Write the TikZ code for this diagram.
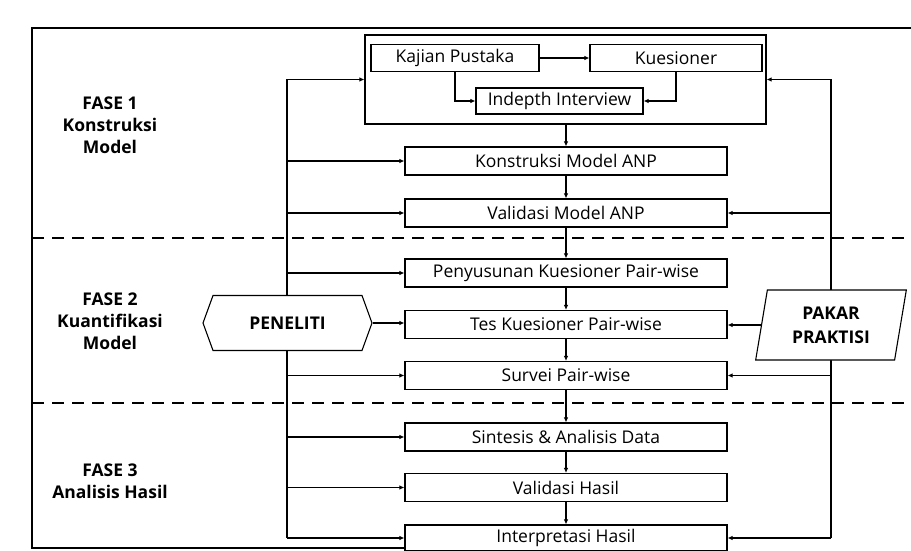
\documentclass[tikz,border=0pt]{standalone}
\usepackage{fontspec}
\setmainfont{Open Sans}
\usetikzlibrary{arrows.meta,shapes.symbols,shapes.geometric}
\begin{document}
\begin{tikzpicture}[x=1pt,y=-1pt,
  box/.style={draw, line width=1.1pt, minimum width=322pt, minimum height=28pt, inner sep=0pt, font=\fontsize{17.5}{19}\selectfont},
  sbox/.style={draw, line width=1.1pt, minimum height=27pt, inner sep=0pt, font=\fontsize{17.5}{19}\selectfont},
  arr/.style={line width=1.3pt, -{Latex[length=5pt,width=4.5pt]}},
  ln/.style={line width=1.3pt},
  frame/.style={line width=2.4pt},
  phase/.style={line width=2.5pt, dash pattern=on 12pt off 8pt},
  lbl/.style={font=\bfseries\fontsize{17.5}{22}\selectfont, align=center},
  actor/.style={draw, fill=white, line width=1.1pt, inner sep=0pt, font=\bfseries\fontsize{17.5}{24}\selectfont, align=center}]
\useasboundingbox (0,0) rectangle (911,551);
\fill[white] (0,0) rectangle (911,551);

% frame and phase separators
\draw[frame] (911,28) -- (32,28) -- (32,548) -- (405,548);
\draw[phase] (32,238) -- (911,238);
\draw[phase] (32,403) -- (911,403);

% phase labels
\node[lbl] (f1) at (110,125) {FASE 1\\Konstruksi\\Model};
\node[lbl] (f2) at (110,321) {FASE 2\\Kuantifikasi\\Model};
\node[lbl] (f3) at (110,481) {FASE 3\\Analisis Hasil};

% group box
\node[draw, line width=1.1pt, minimum width=401pt, minimum height=89pt, inner sep=0pt] (grp) at (565.5,79.5) {};
\node[sbox, minimum width=168pt] (kp) at (455,58) {Kajian Pustaka};
\node[sbox, minimum width=172pt] (kue) at (676,58) {Kuesioner};
\node[sbox, minimum width=167pt, minimum height=26pt] (idi) at (559.5,101) {Indepth Interview};
\draw[arr] (kp.east) -- (kue.west);
\draw[arr] (kp.south) |- (idi.west);
\draw[arr] (kue.south) |- (idi.east);

% main column
\node[box] (k1) at (566,161) {Konstruksi Model ANP};
\node[box] (k2) at (566,213) {Validasi Model ANP};
\node[box] (k3) at (566,273) {Penyusunan Kuesioner Pair-wise};
\node[box] (k4) at (566,324.5) {Tes Kuesioner Pair-wise};
\node[box] (k5) at (566,375.5) {Survei Pair-wise};
\node[box] (k6) at (566,437) {Sintesis \& Analisis Data};
\node[box] (k7) at (566,487.5) {Validasi Hasil};
\node[box, minimum height=26pt] (k8) at (566,538) {Interpretasi Hasil};

\draw[arr] (k1.north |- grp.south) -- (k1.north);
\draw[arr] (k1.south) -- (k2.north);
\draw[arr] (k2.south) -- (k3.north);
\draw[arr] (k3.south) -- (k4.north);
\draw[arr] (k4.south) -- (k5.north);
\draw[arr] (k5.south) -- (k6.north);
\draw[arr] (k6.south) -- (k7.north);
\draw[arr] (k7.south) -- (k8.north);

% left bus (PENELITI)
\coordinate (bl) at (287,0);
\draw[ln] (grp.west -| bl) -- (k8.west -| bl);
\foreach \n in {grp,k1,k2,k3,k5,k6,k7,k8}
  \draw[arr] (\n.west -| bl) -- (\n.west);
\node[actor, shape=signal, signal to=west and east, signal pointer angle=140,
      minimum width=169pt, minimum height=55pt] (pen) at (287.5,323) {PENELITI};
\draw[arr] (pen.east) -- (pen.east -| k4.west);

% right bus (PAKAR PRAKTISI)
\coordinate (br) at (831,0);
\draw[ln] (grp.east -| br) -- (k8.east -| br);
\foreach \n in {grp,k2,k5,k8}
  \draw[arr] (\n.east -| br) -- (\n.east);
\node[actor, shape=trapezium, trapezium left angle=79, trapezium right angle=101,
      minimum width=152pt, minimum height=70pt, trapezium stretches=true] (pak) at (831,325) {PAKAR\\PRAKTISI};
\draw[arr] (pak.west) -- (pak.west -| k4.east);
\end{tikzpicture}
\end{document}
